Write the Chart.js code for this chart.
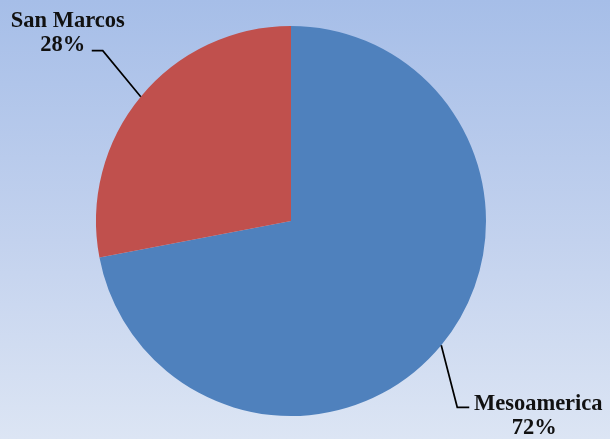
<!DOCTYPE html>
<html>
<head>
<meta charset="utf-8">
<script src="https://cdn.jsdelivr.net/npm/chart.js@4"></script>
<style>
  html, body { margin: 0; padding: 0; }
  body {
    width: 610px; height: 439px; overflow: hidden;
    background: linear-gradient(to bottom, #a6bee8 0%, #c3d2ee 55%, #dce5f4 100%);
  }
  #wrap { position: relative; width: 610px; height: 439px; }
</style>
</head>
<body>
<div id="wrap"><canvas id="pieChart"></canvas></div>
<script>
// Datos del gráfico
const categorias = ['Mesoamerica', 'San Marcos'];
const valores = [72, 28];
const colores = ['#4f81bd', '#c0504d'];

// Etiquetas con líneas guía (desplazamientos desde el borde del sector)
const guias = [
    { codo: [16, 62], fin: [28, 62], texto: [97, 65], pct: -4 },
    { codo: [-38, -46], fin: [-49, -46], texto: [-73, -70], pct: -5 }
];

const etiquetasPlugin = {
    id: 'etiquetas',
    afterDraw(chart) {
        const ctx = chart.ctx;
        const meta = chart.getDatasetMeta(0);
        const total = valores.reduce((a, b) => a + b, 0);
        meta.data.forEach((arc, i) => {
            const p = arc.getProps(['x', 'y', 'startAngle', 'endAngle', 'outerRadius'], true);
            const mid = (p.startAngle + p.endAngle) / 2;
            const ex = p.x + Math.cos(mid) * p.outerRadius;
            const ey = p.y + Math.sin(mid) * p.outerRadius;
            const g = guias[i];

            ctx.save();
            ctx.strokeStyle = '#000';
            ctx.lineWidth = 1.7;
            ctx.beginPath();
            ctx.moveTo(ex, ey);
            ctx.lineTo(ex + g.codo[0], ey + g.codo[1]);
            ctx.lineTo(ex + g.fin[0], ey + g.fin[1]);
            ctx.stroke();

            ctx.fillStyle = '#111';
            ctx.font = 'bold 22.5px "Liberation Serif", serif';
            ctx.textAlign = 'center';
            ctx.textBaseline = 'alphabetic';
            const tx = ex + g.texto[0];
            const ty = ey + g.texto[1];
            const pct = Math.round(valores[i] / total * 100) + '%';
            ctx.fillText(categorias[i], tx, ty);
            ctx.fillText(pct, tx + g.pct, ty + 24);
            ctx.restore();
        });
    }
};

const ctx = document.getElementById('pieChart').getContext('2d');
new Chart(ctx, {
    type: 'pie',
    data: {
        labels: categorias,
        datasets: [{
            data: valores,
            backgroundColor: colores,
            borderWidth: 0
        }]
    },
    options: {
        responsive: true,
        maintainAspectRatio: false,
        animation: false,
        layout: { padding: { left: 96, right: 124, top: 26, bottom: 23 } },
        plugins: {
            legend: { display: false },
            tooltip: { enabled: false }
        }
    },
    plugins: [etiquetasPlugin]
});
</script>
</body>
</html>
